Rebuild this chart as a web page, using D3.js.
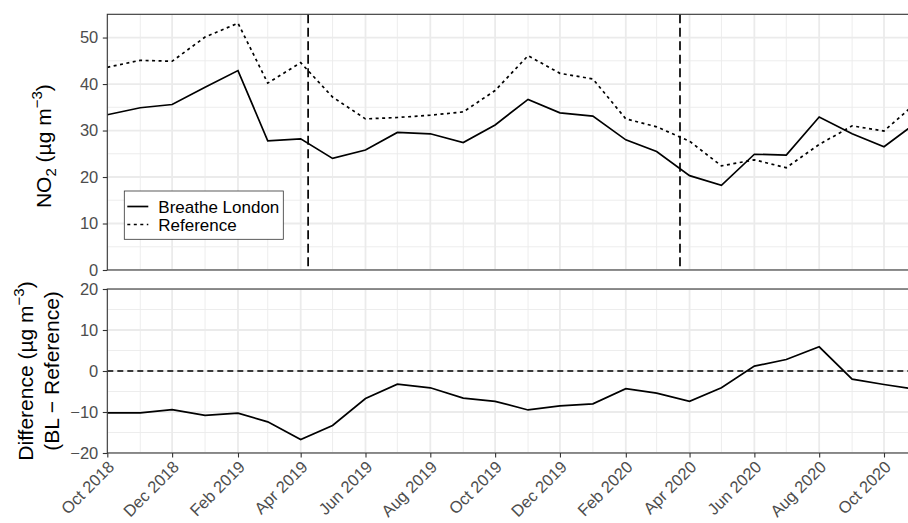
<!DOCTYPE html>
<html>
<head>
<meta charset="utf-8">
<script src="https://cdn.jsdelivr.net/npm/d3@7"></script>
<style>
  body { margin: 0; background: #fff; }
  text { font-family: "Liberation Sans", Arial, Helvetica, sans-serif; }
</style>
</head>
<body>
<svg id="chart" width="908" height="523"></svg>
<script>
// Monthly mean NO2, Breathe London sensors vs reference monitors
const months = ["2018-10","2018-11","2018-12","2019-01","2019-02","2019-03","2019-04","2019-05",
  "2019-06","2019-07","2019-08","2019-09","2019-10","2019-11","2019-12","2020-01","2020-02",
  "2020-03","2020-04","2020-05","2020-06","2020-07","2020-08","2020-09","2020-10","2020-11"];
const breatheLondon = [33.4, 34.9, 35.6, 39.3, 42.9, 27.8, 28.2, 24.0, 25.8, 29.6, 29.3, 27.4, 31.2,
  36.7, 33.8, 33.1, 28.0, 25.5, 20.3, 18.2, 24.9, 24.7, 32.9, 29.3, 26.5, 31.8];
const reference = [43.6, 45.1, 44.9, 50.1, 53.1, 40.2, 44.6, 37.2, 32.5, 32.8, 33.3, 34.0, 38.6,
  46.1, 42.3, 41.1, 32.5, 30.8, 27.7, 22.4, 23.7, 22.0, 27.0, 31.0, 29.9, 36.1];
const difference = [-10.2, -10.2, -9.4, -10.8, -10.3, -12.4, -16.7, -13.3, -6.7, -3.2, -4.1, -6.6, -7.4,
  -9.5, -8.5, -8.0, -4.3, -5.4, -7.4, -4.1, 1.2, 2.8, 5.9, -2.0, -3.3, -4.5];

// Policy dates marked by vertical lines (ULEZ start, first lockdown)
const eventDates = ["2019-04-08", "2020-03-23"];

// Axis ticks
const xTickMonths = ["2018-10","2018-12","2019-02","2019-04","2019-06","2019-08","2019-10",
  "2019-12","2020-02","2020-04","2020-06","2020-08","2020-10"];
const xMinorMonths = ["2018-11","2019-01","2019-03","2019-05","2019-07","2019-09","2019-11",
  "2020-01","2020-03","2020-05","2020-07","2020-09","2020-11"];
const yTicksTop = [0, 10, 20, 30, 40, 50];
const yMinorTop = [5, 15, 25, 35, 45, 55];
const yTicksBottom = [-20, -10, 0, 10, 20];
const yMinorBottom = [-15, -5, 5, 15];
const legendLabels = ["Breathe London", "Reference"];

const parseMonth = d3.utcParse("%Y-%m");
const parseDay = d3.utcParse("%Y-%m-%d");
const fmtMonth = d3.utcFormat("%b %Y");

const svg = d3.select("#chart");
const left = 107.3, right = 916;
const top1 = { y0: 14.3, y1: 270 };
const bot1 = { y0: 289, y1: 453 };

const x = d3.scaleUtc()
  .domain([parseMonth("2018-10"), parseMonth("2020-10")])
  .range([left, 884]);
const yTop = d3.scaleLinear().domain([0, 55]).range([top1.y1, top1.y0]);
const yBot = d3.scaleLinear().domain([-20, 20]).range([bot1.y1, bot1.y0]);

const gridCol = "#EBEBEB", axisCol = "#333333", textCol = "#4D4D4D";
const tickFont = "16.5px", titleFont = "21px", scriptFont = "15px";

function panel(id, yScale, pan, majorY, minorY) {
  const g = svg.append("g");
  g.append("clipPath").attr("id", id)
    .append("rect").attr("x", left).attr("y", pan.y0)
    .attr("width", right - left).attr("height", pan.y1 - pan.y0);
  const grid = g.append("g");
  grid.selectAll(".vmin").data(xMinorMonths).join("line")
    .attr("x1", d => x(parseMonth(d))).attr("x2", d => x(parseMonth(d)))
    .attr("y1", pan.y0).attr("y2", pan.y1)
    .attr("stroke", gridCol).attr("stroke-width", 0.9);
  grid.selectAll(".hmin").data(minorY).join("line")
    .attr("x1", left).attr("x2", right)
    .attr("y1", d => yScale(d)).attr("y2", d => yScale(d))
    .attr("stroke", gridCol).attr("stroke-width", 0.9);
  grid.selectAll(".vmaj").data(xTickMonths).join("line")
    .attr("x1", d => x(parseMonth(d))).attr("x2", d => x(parseMonth(d)))
    .attr("y1", pan.y0).attr("y2", pan.y1)
    .attr("stroke", gridCol).attr("stroke-width", 1.8);
  grid.selectAll(".hmaj").data(majorY).join("line")
    .attr("x1", left).attr("x2", right)
    .attr("y1", d => yScale(d)).attr("y2", d => yScale(d))
    .attr("stroke", gridCol).attr("stroke-width", 1.8);
  grid.attr("clip-path", `url(#${id})`);
  return g;
}

const gTop = panel("clipTop", yTop, top1, yTicksTop, yMinorTop);
const gBot = panel("clipBot", yBot, bot1, yTicksBottom, yMinorBottom);

// Series lines (top panel)
const pts = months.map(parseMonth);
const lineTop = (vals) => d3.line().x((d, i) => x(pts[i])).y(d => yTop(d))(vals);
const series = gTop.append("g").attr("clip-path", "url(#clipTop)");

series.selectAll(".event").data(eventDates).join("line")
  .attr("x1", d => x(parseDay(d))).attr("x2", d => x(parseDay(d)))
  .attr("y1", top1.y0).attr("y2", top1.y1)
  .attr("stroke", "#000").attr("stroke-width", 1.7).attr("stroke-dasharray", "9,4.5");

series.append("path").attr("d", lineTop(reference))
  .attr("fill", "none").attr("stroke", "#000").attr("stroke-width", 1.7)
  .attr("stroke-dasharray", "3,3.5");
series.append("path").attr("d", lineTop(breatheLondon))
  .attr("fill", "none").attr("stroke", "#000").attr("stroke-width", 1.7);

// Difference panel
const diffG = gBot.append("g").attr("clip-path", "url(#clipBot)");
diffG.append("line").attr("x1", left).attr("x2", right)
  .attr("y1", yBot(0)).attr("y2", yBot(0))
  .attr("stroke", "#000").attr("stroke-width", 1.5).attr("stroke-dasharray", "6,4");
diffG.append("path")
  .attr("d", d3.line().x((d, i) => x(pts[i])).y(d => yBot(d))(difference))
  .attr("fill", "none").attr("stroke", "#000").attr("stroke-width", 1.7);

// Panel borders
[top1, bot1].forEach(p => {
  svg.append("rect").attr("x", left).attr("y", p.y0)
    .attr("width", right - left).attr("height", p.y1 - p.y0)
    .attr("fill", "none").attr("stroke", axisCol).attr("stroke-width", 1.1);
});

// Y axes
function yAxis(scale, ticks) {
  const g = svg.append("g").attr("transform", `translate(${left},0)`)
    .call(d3.axisLeft(scale).tickValues(ticks).tickSize(4.5).tickPadding(4.5));
  g.select(".domain").remove();
  g.selectAll(".tick line").attr("stroke", axisCol).attr("stroke-width", 1.1);
  g.selectAll(".tick text").attr("fill", textCol).style("font-size", tickFont)
    .style("font-family", '"Liberation Sans", Arial, sans-serif');
}
yAxis(yTop, yTicksTop);
yAxis(yBot, yTicksBottom);

// X axis (bottom panel only)
const xa = svg.append("g").attr("transform", `translate(0,${bot1.y1})`)
  .call(d3.axisBottom(x).tickValues(xTickMonths.map(parseMonth)).tickFormat(fmtMonth).tickSize(4.5));
xa.select(".domain").remove();
xa.selectAll(".tick line").attr("stroke", axisCol).attr("stroke-width", 1.1);
xa.selectAll(".tick text")
  .attr("fill", textCol).style("font-size", tickFont)
  .style("font-family", '"Liberation Sans", Arial, sans-serif')
  .attr("text-anchor", "end").attr("y", null).attr("dy", null)
  .attr("transform", "translate(7.5,15) rotate(-45)");

// Y axis titles
const title1 = svg.append("text")
  .attr("transform", `translate(51,${(top1.y0 + top1.y1) / 2 + 4}) rotate(-90)`)
  .attr("text-anchor", "middle").attr("fill", "#000").style("font-size", titleFont);
title1.append("tspan").text("NO");
title1.append("tspan").attr("dy", 5).style("font-size", scriptFont).text("2");
title1.append("tspan").attr("dy", -5).text(" (µg m");
title1.append("tspan").attr("dy", -9).style("font-size", scriptFont).text("−3");
title1.append("tspan").attr("dy", 9).text(")");

const cy = (bot1.y0 + bot1.y1) / 2;
const title2 = svg.append("text")
  .attr("transform", `translate(33,${cy}) rotate(-90)`)
  .attr("text-anchor", "middle").attr("fill", "#000").style("font-size", titleFont);
title2.append("tspan").text("Difference (µg m");
title2.append("tspan").attr("dy", -9).style("font-size", scriptFont).text("−3");
title2.append("tspan").attr("dy", 9).text(")");
svg.append("text")
  .attr("transform", `translate(59,${cy}) rotate(-90)`)
  .attr("text-anchor", "middle").attr("fill", "#000").style("font-size", titleFont)
  .text("(BL − Reference)");

// Legend
const lg = svg.append("g").attr("transform", "translate(124.3,191)");
lg.append("rect").attr("width", 159).attr("height", 48.3)
  .attr("fill", "#fff").attr("stroke", "#333").attr("stroke-width", 0.8);
const dashes = [null, "3,3.5"];
legendLabels.forEach((lab, i) => {
  const yy = 15.5 + i * 18;
  lg.append("line").attr("x1", 3).attr("x2", 24).attr("y1", yy).attr("y2", yy)
    .attr("stroke", "#000").attr("stroke-width", 1.7)
    .attr("stroke-dasharray", dashes[i]);
  lg.append("text").attr("x", 34).attr("y", yy + 6)
    .attr("fill", "#000").style("font-size", "17px").text(lab);
});
</script>
</body>
</html>
